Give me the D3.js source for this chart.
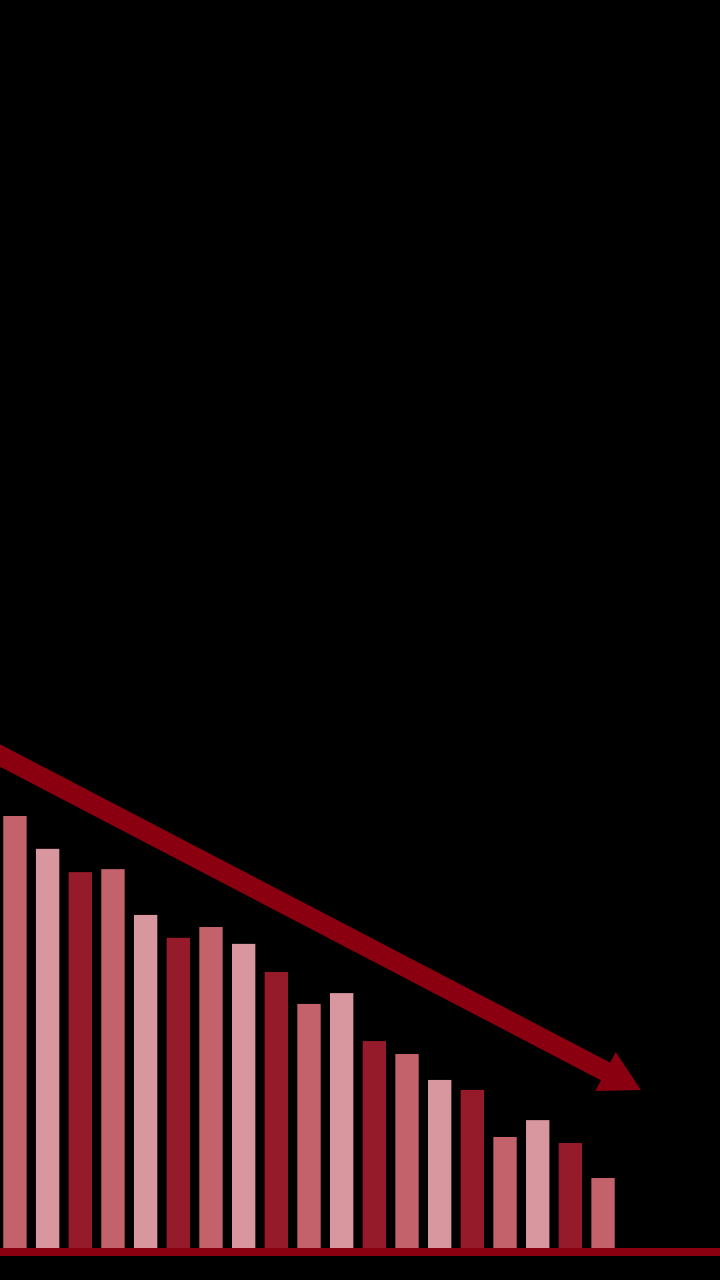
<!DOCTYPE html>
<html>
<head>
<meta charset="utf-8">
<script src="https://cdn.jsdelivr.net/npm/d3@7"></script>
<style>
  html, body { margin: 0; padding: 0; background: #000; }
  svg { display: block; }
</style>
</head>
<body>
<div id="chart"></div>
<script>
// bar values (relative, first bar = 100)
const categories = d3.range(1, 20).map(i => `P${i}`);
const values = [100, 92.4, 87.0, 87.7, 77.1, 71.8, 74.3, 70.4, 63.9, 56.5,
                59.0, 47.9, 44.9, 38.9, 36.6, 25.7, 29.6, 24.3, 16.2];
const palette = ['#c4626c', '#d8979e', '#961b2a'];
// trend arrow: value at left edge and at the arrow tip
const trend = [114, 36.6];

const width = 720, height = 1280;
const baseY = 1248;

const svg = d3.select('#chart').append('svg')
    .attr('width', width)
    .attr('height', height);

svg.append('rect')
    .attr('width', width)
    .attr('height', height)
    .attr('fill', '#000');

const x = d3.scaleBand()
    .domain(categories)
    .range([0, 618])
    .paddingInner(0.285)
    .paddingOuter(0.1);

const y = d3.scaleLinear()
    .domain([0, 100])
    .range([baseY, 816]);

svg.append('g')
  .selectAll('rect')
  .data(values)
  .join('rect')
    .attr('x', (d, i) => x(categories[i]))
    .attr('y', d => y(d))
    .attr('width', x.bandwidth())
    .attr('height', d => baseY - y(d))
    .attr('fill', (d, i) => palette[i % 3]);

// baseline
svg.append('rect')
    .attr('x', 0)
    .attr('y', baseY)
    .attr('width', width)
    .attr('height', 8)
    .attr('fill', '#8a0010');

// trend arrow
const x0 = 0, x1 = 641;
const p0 = [x0, y(trend[0])], p1 = [x1, y(trend[1])];
const ang = Math.atan2(p1[1] - p0[1], p1[0] - p0[0]);
const headLen = 40, headHalf = 22;
const bx = p1[0] - headLen * Math.cos(ang), by = p1[1] - headLen * Math.sin(ang);

svg.append('line')
    .attr('x1', p0[0] - 20 * Math.cos(ang))
    .attr('y1', p0[1] - 20 * Math.sin(ang))
    .attr('x2', bx + 2 * Math.cos(ang))
    .attr('y2', by + 2 * Math.sin(ang))
    .attr('stroke', '#8a0010')
    .attr('stroke-width', 20);

svg.append('path')
    .attr('d', d3.line()([
        p1,
        [bx - headHalf * Math.sin(ang), by + headHalf * Math.cos(ang)],
        [bx + headHalf * Math.sin(ang), by - headHalf * Math.cos(ang)]
    ]) + 'Z')
    .attr('fill', '#8a0010');
</script>
</body>
</html>
